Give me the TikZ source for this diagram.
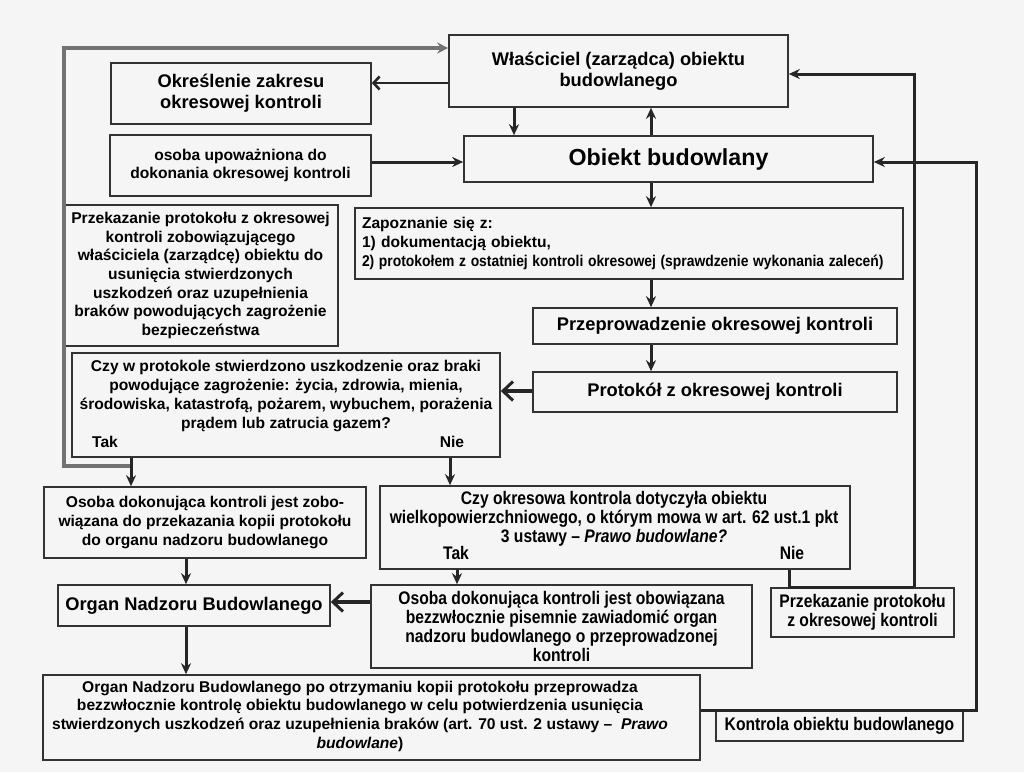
\documentclass[tikz,border=0pt]{standalone}
\usepackage{fontspec}
\setmainfont{Liberation Sans}
\newfontfamily\narrowfont{Liberation Sans Bold}[FakeStretch=0.86, ItalicFont={Liberation Sans Bold Italic}]
\usetikzlibrary{arrows.meta}

\tikzset{
  box/.style={draw=black!80, line width=1.6pt, inner sep=0pt},
  txt/.style={font=\bfseries\fontsize{15.6}{18.7}\selectfont},
  big/.style={font=\bfseries\fontsize{18.3}{21}\selectfont},
  narrow/.style={font=\narrowfont\fontsize{18.2}{19}\selectfont},
  arr/.style={draw=black!85, line width=3pt, -{Stealth[length=11pt,width=10pt]}},
  barb/.style={draw=black!85, line width=2.6pt, -{Straight Barb[length=6pt,width=13pt]}},
  thickbarb/.style={draw=black!85, line width=4.5pt, -{Straight Barb[length=10pt,width=19pt,line width=3pt]}},
  loopline/.style={draw=black!55, line width=3.5pt, -{Stealth[length=11pt,width=11pt]}},
  plain/.style={draw=black!85, line width=3pt}
}

\begin{document}
\begin{tikzpicture}[x=1pt,y=-1pt]
  \fill[black!4] (0,0) rectangle (1024,772);
  \useasboundingbox (0,0) rectangle (1024,772);

  % upper part
  \node[box, big, align=center, minimum width=339, minimum height=72] (wlasc) at (618.5,71)
    {Właściciel (zarządca) obiektu\\budowlanego};
  \node[box, big, align=center, minimum width=260, minimum height=61] (okresl) at (241,93.5)
    {Określenie zakresu\\okresowej kontroli};
  \node[box, txt, align=center, minimum width=261, minimum height=61] (osoba) at (240.5,165.5)
    {osoba upoważniona do\\dokonania okresowej kontroli};
  \node[box, font=\bfseries\fontsize{23.2}{26}\selectfont, minimum width=409, minimum height=46] (obiekt) at (668.5,159)
    {Obiekt budowlany};
  \node[box, txt, align=center, minimum width=275, minimum height=141] (przek) at (200.5,275.5)
    {Przekazanie protokołu z okresowej\\kontroli zobowiązującego\\właściciela (zarządcę) obiektu do\\usunięcia stwierdzonych\\uszkodzeń oraz uzupełnienia\\braków powodujących zagrożenie\\bezpieczeństwa};
  \node[box, txt, align=left, text width=534, inner xsep=7pt, minimum height=71] (zapozn) at (629,243.5)
    {Zapoznanie się z:\\1) dokumentacją obiektu,\\\scalebox{0.89}[1]{2) protokołem z ostatniej kontroli okresowej (sprawdzenie wykonania zaleceń)}};
  \node[box, big, minimum width=364, minimum height=36] (przepr) at (715,326)
    {Przeprowadzenie okresowej kontroli};
  \node[box, big, minimum width=364, minimum height=40] (protokol) at (715,392)
    {Protokół z okresowej kontroli};

  % pierwsze pytanie
  \node[box, minimum width=428, minimum height=104] (pyt1) at (286,405) {};
  \node[txt, align=center] (pyt1txt) at (286,396)
    {Czy w protokole stwierdzono uszkodzenie oraz braki\\powodujące zagrożenie: życia, zdrowia, mienia,\\środowiska, katastrofą, pożarem, wybuchem, porażenia\\prądem lub zatrucia gazem?};
  \node[txt] (tak1) at (105,442) {Tak};
  \node[txt] (nie1) at (452,442) {Nie};

  % lower part
  \node[box, txt, align=center, minimum width=322, minimum height=71] (zobow) at (205,522.5)
    {Osoba dokonująca kontroli jest zobo-\\wiązana do przekazania kopii protokołu\\do organu nadzoru budowlanego};
  \node[box, minimum width=470, minimum height=83] (pyt2) at (615,527.5) {};
  \node[narrow, align=center] (pyt2txt) at (614,519)
    {Czy okresowa kontrola dotyczyła obiektu\\wielkopowierzchniowego, o którym mowa w art. 62 ust.1 pkt\\3 ustawy – \textit{Prawo budowlane?}};
  \node[narrow] (tak2) at (456,553) {Tak};
  \node[narrow] (nie2) at (792,553) {Nie};
  \node[box, big, minimum width=272, minimum height=41] (organ) at (194,605.5)
    {Organ Nadzoru Budowlanego};
  \node[box, narrow, align=center, minimum width=381, minimum height=83] (obowiaz) at (561.5,626.5)
    {Osoba dokonująca kontroli jest obowiązana\\bezzwłocznie pisemnie zawiadomić organ\\nadzoru budowlanego o przeprowadzonej\\kontroli};
  \node[box, narrow, align=center, minimum width=183, minimum height=49] (przekmaly) at (862.5,612.5)
    {Przekazanie protokołu\\z okresowej kontroli};
  \node[box, minimum width=657, minimum height=85] (organdl) at (371.5,717.5) {};
  \node[txt, align=center] (organdltxt) at (360,716)
    {Organ Nadzoru Budowlanego po otrzymaniu kopii protokołu przeprowadza\\bezzwłocznie kontrolę obiektu budowlanego w celu potwierdzenia usunięcia\\stwierdzonych uszkodzeń oraz uzupełnienia braków (art. 70 ust. 2 ustawy –\ \ \textit{Prawo}\\\textit{budowlane})};
  \node[box, narrow, minimum width=247, minimum height=30] (kontrola) at (839.5,726)
    {Kontrola obiektu budowlanego};

  % connectors
  \coordinate (tak1p) at (131,466);
  \coordinate (loopup) at (64,48);
  \draw[loopline] (tak1p) -| (loopup) -- (loopup -| wlasc.west);
  \draw[barb] (wlasc.west |- 0,83) -- (okresl.east |- 0,83);
  \draw[arr] (osoba.east |- 0,162) -- (obiekt.west |- 0,162);
  \draw[arr] (wlasc.south -| 514,0) -- (obiekt.north -| 514,0);
  \draw[arr] (obiekt.north -| 651,0) -- (wlasc.south -| 651,0);
  \draw[arr] (obiekt.south -| 651,0) -- (zapozn.north -| 651,0);
  \draw[arr] (zapozn.south -| 651,0) -- (przepr.north -| 651,0);
  \draw[arr] (przepr.south -| 651,0) -- (protokol.north -| 651,0);
  \draw[thickbarb] (protokol.west |- 0,391) -- (pyt1.east |- 0,391);
  \draw[arr] (pyt1.south -| 131,0) -- (zobow.north -| 131,0);
  \draw[arr] (pyt1.south -| 450,0) -- (pyt2.north -| 450,0);
  \draw[arr] (zobow.south -| 186,0) -- (organ.north -| 186,0);
  \draw[arr] (pyt2.south -| 457,0) -- (obowiaz.north -| 457,0);
  \draw[thickbarb] (obowiaz.west |- 0,602) -- (organ.east |- 0,602);
  \draw[arr] (organ.south -| 186,0) -- (organdl.north -| 186,0);
  \coordinate (nieup) at (914,587);
  \draw[plain] (pyt2.south -| 789,0) |- (nieup);
  \draw[arr] (nieup) -- (914,74) -- (wlasc.east |- 0,74);
  \coordinate (kontrup) at (976,710);
  \draw[arr] (organdl.east |- kontrup) -- (kontrup) -- (976,162) -- (obiekt.east |- 0,162);
\end{tikzpicture}
\end{document}
